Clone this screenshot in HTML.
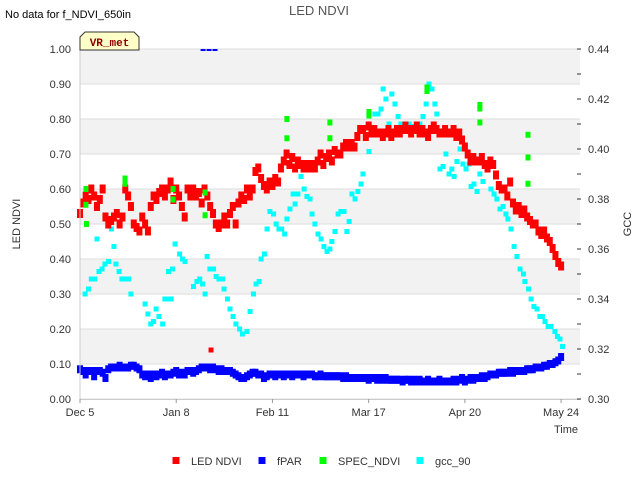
<!DOCTYPE html>
<html><head><meta charset="utf-8"><style>
body{margin:0;background:#fff;font-family:"Liberation Sans",sans-serif}
svg{display:block}
</style></head><body>
<svg id="chart" width="640" height="480" xmlns="http://www.w3.org/2000/svg">
<rect width="640" height="480" fill="#fff"/>
<text x="5" y="18" font-size="11" fill="#000">No data for f_NDVI_650in</text>
<text x="319" y="15" font-size="13" fill="#555" text-anchor="middle">LED NDVI</text>
<g id="bands"></g>
<g id="marks"></g>
<g id="axes"></g>
<g>
<path d="M80,50 L80,37 L85,32 L134,32 L139,37 L139,50 Z" fill="#ffffc8" stroke="#333" stroke-width="1"/>
<text x="109.5" y="46" font-size="11" font-weight="bold" fill="#8b0000" text-anchor="middle" font-family="Liberation Mono, monospace">VR_met</text>
</g>
<text transform="translate(20,224) rotate(-90)" font-size="11" fill="#333" text-anchor="middle">LED NDVI</text>
<text transform="translate(631,224) rotate(-90)" font-size="11" fill="#333" text-anchor="middle">GCC</text>
<text x="578" y="433" font-size="11" fill="#333" text-anchor="end">Time</text>
<g id="legend"></g>
</svg>
<script>
const ndvi=[.53,.56,.58,.57,.60,.58,.55,.57,.60,.52,.50,.51,.52,.53,.50,.52,.60,.58,.55,.50,.49,.48,.52,.50,.48,
.55,.58,.57,.59,.60,.58,.60,.62,.57,.60,.58,.55,.52,.60,.58,.60,.58,.59,.56,.60,.58,.55,.53,.50,.49,.50,.52,.50,.53,.55,.50,
.56,.58,.57,.60,.58,.60,.65,.66,.63,.61,.60,.62,.61,.63,.62,.66,.68,.70,.67,.69,.66,.68,.67,.66,.67,
.66,.67,.66,.68,.70,.67,.69,.70,.68,.71,.70,.70,.72,.73,.72,.73,.72,.75,.77,.77,.75,.78,.76,.77,.76,
.76,.75,.76,.77,.75,.76,.77,.76,.77,.78,.77,.76,.77,.78,.76,.77,.76,.75,.77,.78,.77,.76,.76,.77,.76,
.76,.77,.75,.76,.74,.72,.70,.68,.69,.68,.68,.69,.67,.66,.68,.67,.64,.61,.60,.60,
.58,.62,.56,.54,.55,.53,.54,.52,.51,.50,.50,.48,.47,.48,.46,.45,.43,.41,.39,.38];
const ndviOutDays=[46.3];
const ndviOutVals=[0.14];
const fpar=[.085,.08,.07,.08,.08,.065,.08,.08,.075,.06,.085,.09,.09,.09,
.095,.09,.09,.09,.095,.095,.09,.085,
.07,.065,.07,.06,.07,.065,.07,.075,.065,.07,.07,.075,.08,.07,
.075,.07,.08,.08,.075,.08,.085,.09,.09,.09,.085,.09,.085,.08,.085,.08,.08,
.08,.075,.07,.065,.06,.06,.065,.07,.075,.075,.07,.07,.06,
.065,.07,.07,.065,.07,.07,.065,.07,.07,.065,.07,.07,.07,.065,.07,.07,.07,.065,.065,.07,.065,.065,.065,.065,.065,
.065,.065,.06,.065,.06,.06,.06,.06,.06,.06,.06,.055,.06,.06,.055,.06,.055,.06,.055,.055,
.055,.055,.055,.05,.055,.055,.05,.055,.05,.055,.05,.05,.055,.05,.05,.05,.055,.05,.05,.05,
.05,.055,.05,.055,.06,.05,.055,.06,.055,.06,.06,.065,.06,.065,.07,.07,.07,.075,.075,.075,
.075,.08,.075,.08,.08,.08,.08,.085,.085,.085,.09,.09,.09,.095,.095,.10,.10,.105,.11,.12];
const fparOutDays=[43.5,45.6,47.7];
const fparOutVals=[1.0,1.0,1.0];
const specDays=[2.1,2.1,2.3,15.9,15.9,32.9,32.9,44.2,44.2,73.1,73.1,88.3,88.3,102.1,102.1,122.6,122.6,141.3,141.3,141.3,158.3,158.3,158.3];
const specVals=[.60,.555,.50,.63,.615,.60,.57,.59,.525,.80,.745,.79,.745,.82,.81,.89,.88,.84,.83,.79,.755,.69,.615];
const gccDays=[1.8,3.0,4.0,5.2,6.0,6.7,7.8,8.8,10.1,11.1,12.0,12.7,13.8,14.8,15.9,17.2,18.0,23.0,24.0,25.0,26.0,26.9,27.9,29.2,30.0,31.1,32.2,31.3,32.7,33.6,35.2,36.2,37.1,40.1,41.3,42.3,43.3,44.2,44.9,45.9,47.2,48.1,49.1,50.4,50.9,52.1,53.0,54.1,55.1,56.4,57.4,59.0,60.1,61.3,62.2,63.3,64.0,65.2,66.1,67.1,68.4,69.3,70.3,71.3,72.3,73.1,74.2,75.3,76.0,77.0,78.1,79.2,80.2,81.3,82.0,83.0,84.1,85.2,86.2,87.3,88.3,89.0,90.1,91.2,92.2,93.3,94.3,95.1,96.1,97.2,98.2,99.3,100.0,102.1,104.2,105.3,106.4,107.1,108.1,109.2,110.2,111.3,112.4,113.4,114.1,116.3,117.3,118.4,119.1,120.1,121.2,122.3,123.3,124.4,125.4,126.1,127.2,128.3,129.3,130.4,131.4,132.2,133.2,134.3,135.3,136.4,137.5,138.2,139.2,140.3,141.3,142.4,143.5,145.2,146.3,147.3,148.4,149.5,150.5,151.2,152.3,153.4,154.4,155.5,156.7,157.2,158.5,159.4,160.4,161.5,162.5,163.4,164.3,165.4,166.4,167.8,168.7,169.6,170.5];
const gccVals=[.342,.344,.348,.348,.364,.351,.352,.354,.355,.368,.361,.354,.351,.348,.348,.348,.342,.338,.334,.330,.331,.336,.333,.330,.340,.340,.340,.351,.352,.362,.358,.356,.355,.345,.347,.348,.346,.342,.357,.352,.352,.349,.348,.348,.344,.340,.336,.333,.330,.328,.326,.327,.335,.342,.346,.347,.356,.358,.368,.375,.374,.370,.368,.368,.366,.372,.376,.382,.378,.382,.389,.384,.381,.380,.374,.370,.366,.364,.361,.359,.360,.363,.367,.374,.375,.375,.367,.371,.382,.380,.383,.386,.390,.399,.414,.414,.416,.424,.420,.410,.422,.418,.413,.410,.410,.410,.409,.408,.410,.410,.413,.418,.426,.424,.418,.414,.392,.393,.398,.390,.392,.389,.395,.400,.394,.392,.394,.385,.386,.383,.390,.387,.394,.384,.382,.380,.376,.377,.374,.372,.368,.361,.357,.352,.350,.347,.344,.340,.337,.336,.333,.333,.331,.329,.329,.327,.325,.324,.321];
const leftTicks=["0.00","0.10","0.20","0.30","0.40","0.50","0.60","0.70","0.80","0.90","1.00"];
const rightTicks=["0.30","0.32","0.34","0.36","0.38","0.40","0.42","0.44"];
const xTickLabels=["Dec 5","Jan 8","Feb 11","Mar 17","Apr 20","May 24"];
const xTickDays=[0,34,68,102,136,170];

const NS="http://www.w3.org/2000/svg";
const X0=80,X1=580,Y0=399,Y1=49,PXD=2.83;
const xs=d=>X0+d*PXD;
const yl=v=>Y0-(v/1.0)*(Y0-Y1);
const yr=g=>Y0-((g-0.30)/0.14)*(Y0-Y1);
function mk(tag,at,parent){const e=document.createElementNS(NS,tag);for(const k in at)e.setAttribute(k,at[k]);parent.appendChild(e);return e;}
const bands=document.getElementById('bands'),marks=document.getElementById('marks'),axes=document.getElementById('axes'),legend=document.getElementById('legend');
mk('rect',{x:X0,y:Y1,width:X1-X0,height:Y0-Y1,fill:'#fff'},bands);
for(let i=0;i<10;i++){
  if(i%2===1){const r=mk('rect',{x:X0,y:yl((i+1)/10),width:X1-X0,height:35,fill:'#f2f2f2'},bands);
  
  }
}
for(let i=0;i<=10;i++){const l=mk('line',{x1:X0,x2:X1,y1:yl(i/10),y2:yl(i/10),stroke:'#ddd','stroke-width':1},bands);

}
mk('line',{x1:X0,x2:X0,y1:Y1,y2:Y0,stroke:'#ccc'},axes);
mk('line',{x1:X0,x2:X1,y1:Y0+.5,y2:Y0+.5,stroke:'#ccc'},axes);
leftTicks.forEach((t,i)=>{const e=mk('text',{x:71,y:yl(i/10)+4,'font-size':11,fill:'#333','text-anchor':'end'},axes);e.textContent=t;

});
rightTicks.forEach((t,i)=>{const g=0.30+i*0.02;const e=mk('text',{x:588,y:yr(g)+4,'font-size':11,fill:'#333'},axes);e.textContent=t;

});
for(let i=0;i<=14;i++){mk('line',{x1:577,x2:581,y1:yr(0.30+i*0.01),y2:yr(0.30+i*0.01),stroke:'#333'},axes);}
xTickLabels.forEach((t,i)=>{const x=xs(xTickDays[i]);mk('line',{x1:x,x2:x,y1:Y0,y2:Y0+4,stroke:'#999'},axes);
const e=mk('text',{x:x,y:416,'font-size':11,fill:'#333','text-anchor':'middle'},axes);e.textContent=t;

});
function pt(x,y,w,h,c,name){const r=mk('rect',{x:x-w/2,y:y-h/2,width:w,height:h,fill:c},marks);

}
gccDays.forEach((d,i)=>pt(xs(d),yr(gccVals[i]),5,5,'#00ffff','gcc-point'));
ndvi.forEach((v,i)=>{pt(xs(i),yl(v),6,9,'#ff0000','led-ndvi-point');});
ndviOutDays.forEach((d,i)=>pt(xs(d),yl(ndviOutVals[i]),5,5,'#ff0000','led-ndvi-point'));
fpar.forEach((v,i)=>pt(xs(i),yl(v),6,8,'#0000ff','fpar-point'));
fparOutDays.forEach((d,i)=>pt(xs(d),yl(fparOutVals[i])+1,5,2,'#0000ff','fpar-point'));
specDays.forEach((d,i)=>pt(xs(d),yl(specVals[i]),5,6,'#00ff00','spec-ndvi-point'));
const lg=[["LED NDVI","#ff0000",176],["fPAR","#0000ff",262],["SPEC_NDVI","#00ff00",323],["gcc_90","#00ffff",420]];
lg.forEach(([t,c,x])=>{const r=mk('rect',{x:x-3.5,y:457,width:7,height:7,fill:c},legend);


const e=mk('text',{x:x+15,y:465,'font-size':11,fill:'#333'},legend);e.textContent=t;

});
</script>
</body></html>
